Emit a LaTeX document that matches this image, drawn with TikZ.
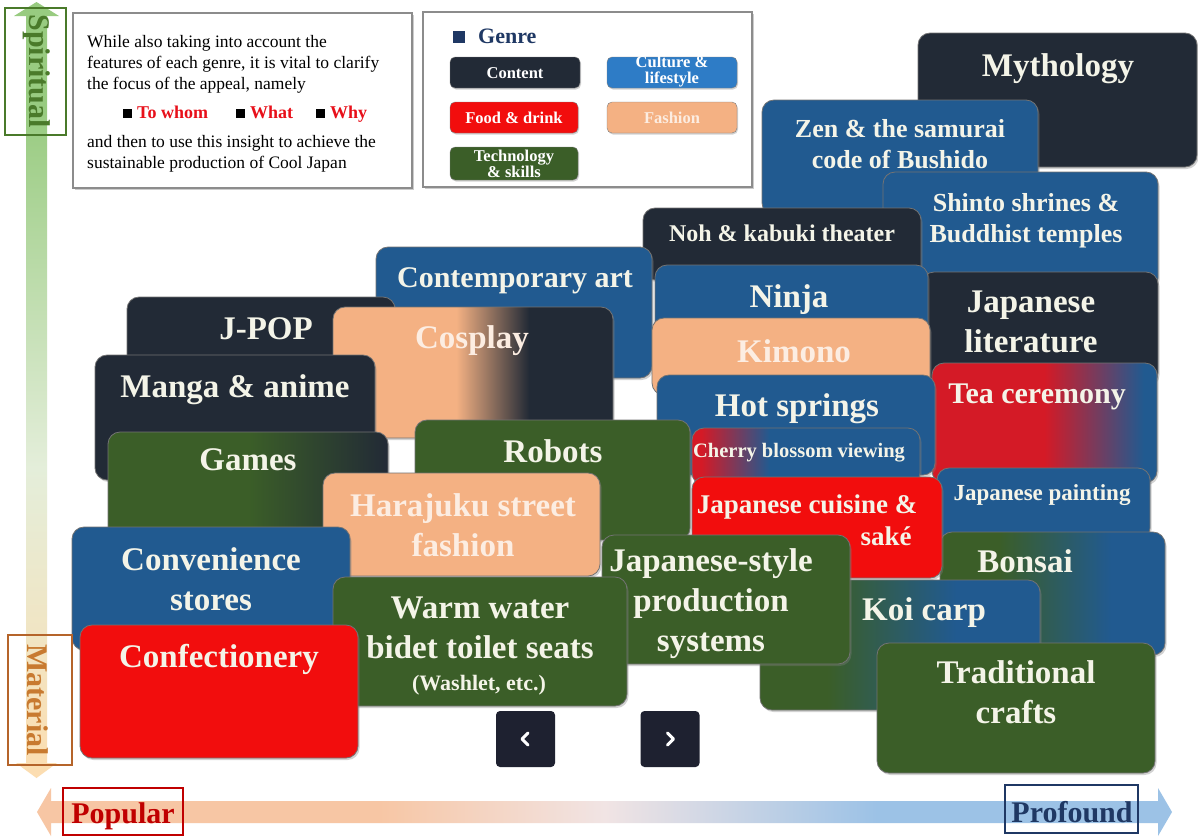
\documentclass[tikz,border=0pt]{standalone}
\usepackage{fontspec}
\setmainfont{Liberation Serif}
\usetikzlibrary{fit,shadows,calc}
\definecolor{cdark}{HTML}{222A36}
\definecolor{cblue}{HTML}{215A90}
\definecolor{cred}{HTML}{F20D0D}
\definecolor{cpeach}{HTML}{F4B183}
\definecolor{cgreen}{HTML}{3B5E28}
\definecolor{ctext}{HTML}{F4F4E8}
\definecolor{ptext}{HTML}{FCEDE2}
\definecolor{tred}{HTML}{D41A26}
\definecolor{lblue}{HTML}{2E7CC6}
\definecolor{spgreen}{HTML}{4A7A2A}
\definecolor{mbrown}{HTML}{B5642A}
\definecolor{mtext}{HTML}{C87A30}
\definecolor{navy}{HTML}{1F3864}
\definecolor{popred}{HTML}{C00000}
\definecolor{wred}{HTML}{E8101A}
\definecolor{vtop}{HTML}{98CB80}
\definecolor{vmid}{HTML}{E4EEDA}
\definecolor{vbot}{HTML}{FCDDB0}
\definecolor{hleft}{HTML}{F7C6A4}
\definecolor{hmid}{HTML}{F1E4E4}
\definecolor{hright}{HTML}{9CC2E6}
\definecolor{navbg}{HTML}{1E2130}

\pgfdeclarehorizontalshading{cosplayshade}{100bp}{color(0bp)=(cpeach); color(47bp)=(cpeach); color(60bp)=(cdark); color(100bp)=(cdark)}
\pgfdeclarehorizontalshading{teashade}{100bp}{color(0bp)=(tred); color(50bp)=(tred); color(72bp)=(cblue); color(100bp)=(cblue)}
\pgfdeclarehorizontalshading{cherryshade}{100bp}{color(0bp)=(tred); color(27bp)=(tred); color(42bp)=(cblue); color(100bp)=(cblue)}
\pgfdeclarehorizontalshading{bonsaishade}{100bp}{color(0bp)=(cgreen); color(38bp)=(cgreen); color(63bp)=(cblue); color(100bp)=(cblue)}
\pgfdeclarehorizontalshading{koishade}{100bp}{color(0bp)=(cgreen); color(37bp)=(cgreen); color(60bp)=(cblue); color(100bp)=(cblue)}
\pgfdeclarehorizontalshading{gamesshade}{100bp}{color(0bp)=(cgreen); color(50bp)=(cgreen); color(75bp)=(cdark); color(100bp)=(cdark)}
\pgfdeclareverticalshading{vshade}{100bp}{color(0bp)=(vbot); color(25bp)=(vbot); color(45bp)=(vmid); color(68bp)=(vtop); color(100bp)=(vtop)}
\pgfdeclarehorizontalshading{hshade}{100bp}{color(0bp)=(hleft); color(40bp)=(hleft); color(50bp)=(hmid); color(62bp)=(hright); color(100bp)=(hright)}

\newcommand\fbig{\bfseries\fontsize{33}{40}\selectfont}
\newcommand\fbigs{\bfseries\fontsize{30}{38}\selectfont}
\newcommand\fmid{\bfseries\fontsize{26}{31}\selectfont}
\newcommand\fnoh{\bfseries\fontsize{24}{28}\selectfont}
\newcommand\fcherry{\bfseries\fontsize{20.5}{24}\selectfont}
\newcommand\fpaint{\bfseries\fontsize{23}{26}\selectfont}
\newcommand\fcui{\bfseries\fontsize{27}{32}\selectfont}
\newcommand\fwash{\bfseries\fontsize{22}{26}\selectfont}
\newcommand\fleg{\bfseries\fontsize{16.5}{16}\selectfont}
\newcommand\fnote{\fontsize{17.5}{21}\selectfont}
\newcommand\faxis{\bfseries\fontsize{30}{30}\selectfont}

% multi-line text: position given is the baseline of the LAST line
\newcommand\jbox[7]{%
  \node[jb,#2,fit={#3#4}] (#1) {};
  \node[jt,#5] (#1-t) at #6 {#7};}
\newcommand\lbox[6]{%
  \node[lbtn,#2,fit={#3#4}] (#1) {};
  \node[lt,#5] (#1-t) at #6 {\strut};}

\tikzset{
  jb/.style={rounded corners=12pt, inner sep=0pt, draw=black!55, line width=0.8pt,
    drop shadow={shadow xshift=1.5pt, shadow yshift=-2pt, opacity=0.35}},
  jt/.style={text=ctext, align=center, inner sep=0pt, anchor=base, font=\fbig},
  lt/.style={text=white, align=center, inner sep=0pt, anchor=base, font=\fleg},
  legbox/.style={draw=black!45, line width=1.5pt, fill=white, inner sep=0pt,
    drop shadow={shadow xshift=2pt, shadow yshift=-2pt, opacity=0.4}},
  lbtn/.style={rounded corners=5pt, draw=black!50, inner sep=0pt,
    drop shadow={shadow xshift=1pt, shadow yshift=-1.5pt, opacity=0.35}},
  axframe/.style={line width=2.6pt, inner sep=0pt},
  navbtn/.style={fill=navbg, rounded corners=4pt, minimum width=59pt, minimum height=56pt, inner sep=0pt},
  chev/.style={draw=white, line width=3pt, line cap=round, line join=round}
}

\begin{document}
\begin{tikzpicture}[x=1pt,y=-1pt]
\useasboundingbox (0,0) rectangle (1198,839);
\fill[white] (0,0) rectangle (1198,839);

% axes arrows
\shade[shading=vshade] (26,16) -- (14,16) -- (36.5,2) -- (59,16) -- (47,16) -- (47,763) -- (57,763) -- (36.5,778) -- (16,763) -- (26,763) -- cycle;
\shade[shading=hshade] (51,801) -- (51,788) -- (37,812) -- (51,836) -- (51,823) -- (1158,823) -- (1158,836) -- (1172,812) -- (1158,788) -- (1158,801) -- cycle;

% note box
\node[legbox, fit={(73,13)(412,188)}] (note) {};
\node[anchor=base west, align=left, inner sep=0pt, font=\fnote] (note-a) at (87,89)
  {While also taking into account the\\features of each genre, it is vital to clarify\\the focus of the appeal, namely};
\node[anchor=base west, inner sep=0pt, font=\bfseries\fontsize{18}{18}\selectfont, text=wred] (who) at (123,118)
  {\textcolor{black}{\rule[0.5pt]{9pt}{9pt}}\hspace{5pt}To whom};
\node[anchor=base west, inner sep=0pt, font=\bfseries\fontsize{18}{18}\selectfont, text=wred] (what) at (236,118)
  {\textcolor{black}{\rule[0.5pt]{9pt}{9pt}}\hspace{5pt}What};
\node[anchor=base west, inner sep=0pt, font=\bfseries\fontsize{18}{18}\selectfont, text=wred] (why) at (316,118)
  {\textcolor{black}{\rule[0.5pt]{9pt}{9pt}}\hspace{5pt}Why};
\node[anchor=base west, align=left, inner sep=0pt, font=\fnote] (note-b) at (87,168)
  {and then to use this insight to achieve the\\sustainable production of Cool Japan};

% genre legend
\node[legbox, fit={(423,12)(752,187)}] (genre) {};
\node[anchor=base west, inner sep=0pt, text=navy, font=\bfseries\fontsize{22}{22}\selectfont] (genre-t) at (453,43)
  {\rule[0pt]{12pt}{12pt}\hspace{13pt}Genre};
\node[lbtn, fill=cdark, fit={(450,57)(580,88)}] (g-content) {};
\node[lt] (g-content-t) at (515,78) {Content};
\node[lbtn, fill=lblue, fit={(607,57)(737,88)}] (g-culture) {};
\node[lt] (g-culture-t) at (672,83) {Culture \&\\lifestyle};
\node[lbtn, fill=cred, fit={(450,102)(578,133)}] (g-food) {};
\node[lt] (g-food-t) at (514,123) {Food \& drink};
\node[lbtn, fill=cpeach, fit={(607,102)(737,133)}] (g-fashion) {};
\node[lt, text=ptext] (g-fashion-t) at (672,123) {Fashion};
\node[lbtn, fill=cgreen, fit={(450,147)(578,180)}] (g-tech) {};
\node[lt] (g-tech-t) at (514,177) {Technology\\\& skills};

% boxes (back to front)
\jbox{myth}{fill=cdark}{(918,33)}{(1197,167)}{}{(1058,76)}{Mythology}
\jbox{zen}{fill=cblue}{(762,100)}{(1038,215)}{font=\fmid}{(900,168)}{Zen \& the samurai\\code of Bushido}
\jbox{shinto}{fill=cblue}{(883,172)}{(1158,290)}{font=\fmid}{(1026,242)}{Shinto shrines \&\\Buddhist temples}
\jbox{jlit}{fill=cdark}{(922,272)}{(1158,385)}{}{(1031,352)}{Japanese\\literature}
\jbox{tea}{shade, shading=teashade}{(932,363)}{(1157,483)}{font=\fbigs}{(1037,403)}{Tea ceremony}
\jbox{paint}{fill=cblue}{(937,468)}{(1150,540)}{font=\fpaint}{(1042,500)}{Japanese painting}
\jbox{bonsai}{shade, shading=bonsaishade}{(940,532)}{(1165,655)}{}{(1025,572)}{Bonsai}
\jbox{noh}{fill=cdark}{(643,208)}{(921,280)}{font=\fnoh}{(782,241)}{Noh \& kabuki theater}
\jbox{cart}{fill=cblue}{(376,247)}{(652,378)}{font=\fbigs}{(515,287)}{Contemporary art}
\jbox{jpop}{fill=cdark}{(127,297)}{(395,372)}{}{(266,339)}{J-POP}
\jbox{cosplay}{shade, shading=cosplayshade}{(333,307)}{(613,438)}{text=ptext}{(472,348)}{Cosplay}
\jbox{manga}{fill=cdark}{(95,355)}{(375,480)}{}{(235,397)}{Manga \& anime}
\jbox{games}{shade, shading=gamesshade}{(108,432)}{(388,540)}{}{(248,470)}{Games}
\jbox{ninja}{fill=cblue}{(655,265)}{(928,340)}{}{(789,307)}{Ninja}
\jbox{kimono}{fill=cpeach}{(652,318)}{(930,395)}{text=ptext}{(794,362)}{Kimono}
\jbox{hot}{fill=cblue}{(657,375)}{(935,475)}{}{(797,416)}{Hot springs}
\jbox{robots}{fill=cgreen}{(415,420)}{(690,540)}{}{(553,462)}{Robots}
\jbox{cherry}{shade, shading=cherryshade}{(692,428)}{(920,485)}{font=\fcherry}{(799,457)}{Cherry blossom viewing}
\jbox{cuisine}{fill=cred}{(692,477)}{(942,578)}{font=\fcui}{(807,513)}{Japanese cuisine \&}
\node[jt, font=\fcui] (cuisine-t2) at (886,545) {saké};
\jbox{koi}{shade, shading=koishade}{(760,580)}{(1040,710)}{}{(924,620)}{Koi carp}
\jbox{hara}{fill=cpeach}{(323,473)}{(600,576)}{text=ptext}{(463,556)}{Harajuku street\\fashion}
\jbox{conv}{fill=cblue}{(72,527)}{(350,650)}{}{(211,610)}{Convenience\\stores}
\jbox{jstyle}{fill=cgreen}{(602,535)}{(850,664)}{}{(711,651)}{Japanese-style\\production\\systems}
\jbox{warm}{fill=cgreen}{(333,577)}{(627,706)}{}{(480,658)}{Warm water\\bidet toilet seats}
\node[jt, font=\fwash] (warm-t2) at (479,690) {(Washlet, etc.)};
\jbox{trad}{fill=cgreen}{(877,643)}{(1155,773)}{}{(1016,723)}{Traditional\\crafts}
\jbox{conf}{fill=cred}{(80,625)}{(358,758)}{}{(219,667)}{Confectionery}

% axis labels
\node[axframe, draw=spgreen, fit={(5,8)(66,135)}] (spframe) {};
\node[rotate=-90, font=\faxis, text=spgreen, inner sep=0pt] (sp-t) at (37,71) {Spiritual};
\node[axframe, draw=mbrown, fit={(8,635)(72,765)}] (maframe) {};
\node[rotate=-90, font=\faxis, text=mtext, inner sep=0pt] (ma-t) at (38,700) {Material};
\node[axframe, draw=popred, fit={(63,788)(183,835)}] (popframe) {};
\node[font=\faxis, text=popred, anchor=base, inner sep=0pt] (pop-t) at (123,823) {Popular};
\node[axframe, draw=navy, fit={(1005,785)(1138,833)}] (proframe) {};
\node[font=\faxis, text=navy, anchor=base, inner sep=0pt] (pro-t) at (1072,822) {Profound};

% nav buttons
\node[navbtn] (prev) at (525.5,739) {};
\draw[chev] ($(prev.center)+(2.5,-6)$) -- ($(prev.center)+(-3.5,0)$) -- ($(prev.center)+(2.5,6)$);
\node[navbtn] (next) at (670,739) {};
\draw[chev] ($(next.center)+(-2.5,-6)$) -- ($(next.center)+(3.5,0)$) -- ($(next.center)+(-2.5,6)$);
\end{tikzpicture}
\end{document}
